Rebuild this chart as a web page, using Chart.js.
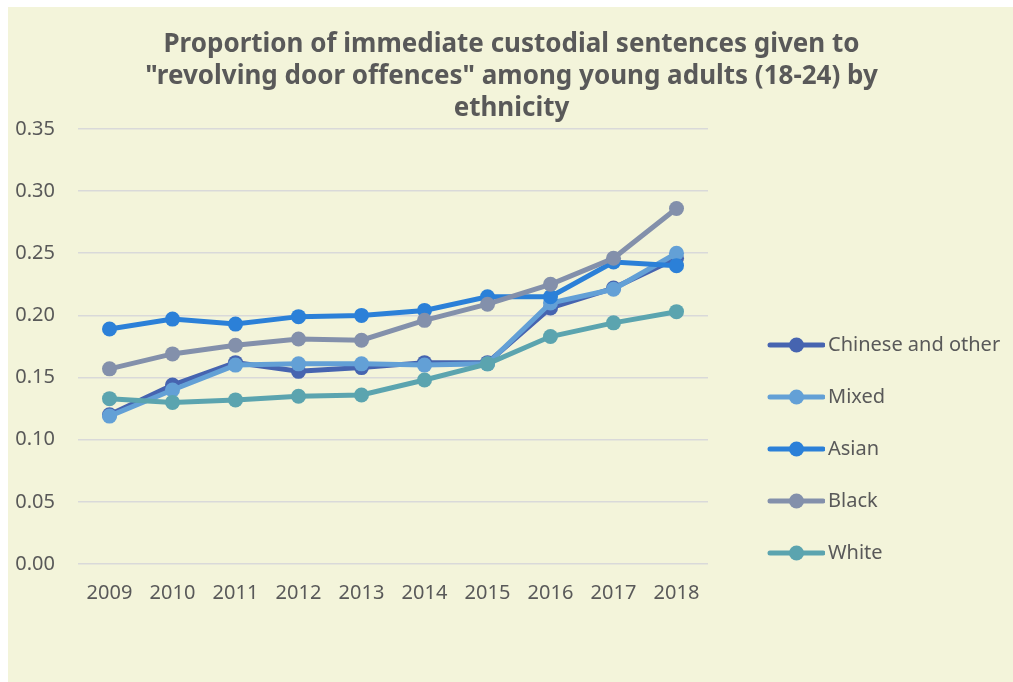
<!DOCTYPE html>
<html lang="en">
<head>
    <meta charset="UTF-8">
    <title>Revolving door offences - custodial sentences by ethnicity</title>
    <script src="https://cdn.jsdelivr.net/npm/chart.js@4.4.1/dist/chart.umd.min.js"></script>
    <style>
        html, body { margin: 0; padding: 0; background: #ffffff; }
        .chart-container {
            position: absolute;
            left: 8px;
            top: 7px;
            width: 1005px;
            height: 675px;
            background: #F3F4DA;
        }
    </style>
</head>
<body>

    <div class="chart-container">
        <canvas id="ethnicityChart"></canvas>
    </div>

    <script>
        // Chart data
        const years = ['2009', '2010', '2011', '2012', '2013', '2014', '2015', '2016', '2017', '2018'];
        const chineseOther = [0.120, 0.144, 0.162, 0.155, 0.158, 0.162, 0.162, 0.206, 0.222, 0.246];
        const mixed        = [0.119, 0.140, 0.160, 0.161, 0.161, 0.160, 0.161, 0.210, 0.221, 0.250];
        const asian        = [0.189, 0.197, 0.193, 0.199, 0.200, 0.204, 0.215, 0.215, 0.243, 0.240];
        const black        = [0.157, 0.169, 0.176, 0.181, 0.180, 0.196, 0.209, 0.225, 0.246, 0.286];
        const white        = [0.133, 0.130, 0.132, 0.135, 0.136, 0.148, 0.161, 0.183, 0.194, 0.203];

        const titleLines = [
            'Proportion of immediate custodial sentences given to',
            '"revolving door offences" among young adults (18-24) by',
            'ethnicity'
        ];

        const textColor = '#595959';

        // Legend marker: a line with a dot in the middle, like the office chart
        function legendMarker(color) {
            const c = document.createElement('canvas');
            c.width = 92;
            c.height = 20;
            const g = c.getContext('2d');
            g.strokeStyle = color;
            g.lineWidth = 5;
            g.lineCap = 'round';
            g.beginPath();
            g.moveTo(37, 10);
            g.lineTo(90, 10);
            g.stroke();
            g.fillStyle = color;
            g.beginPath();
            g.arc(63.5, 10, 7.5, 0, Math.PI * 2);
            g.fill();
            return c;
        }

        function series(label, data, color, order) {
            return {
                label: label,
                data: data,
                borderColor: color,
                backgroundColor: color,
                pointBackgroundColor: color,
                pointBorderColor: color,
                borderWidth: 5,
                pointRadius: 7.5,
                pointHoverRadius: 7.5,
                pointBorderWidth: 0,
                tension: 0,
                fill: false,
                order: order,
                marker: legendMarker(color)
            };
        }

        const ctx = document.getElementById('ethnicityChart').getContext('2d');

        new Chart(ctx, {
            type: 'line',
            data: {
                labels: years,
                datasets: [
                    series('Chinese and other', chineseOther, '#4664B0', 5),
                    series('Mixed', mixed, '#63A0D6', 4),
                    series('Asian', asian, '#2B80D8', 3),
                    series('Black', black, '#8390AB', 2),
                    series('White', white, '#5BA4AF', 1)
                ]
            },
            options: {
                responsive: true,
                maintainAspectRatio: false,
                animation: false,
                layout: {
                    padding: { left: 7, right: 5, top: 0, bottom: 60 }
                },
                scales: {
                    x: {
                        offset: true,
                        grid: { display: false, drawTicks: false },
                        border: { display: false },
                        ticks: {
                            color: textColor,
                            font: { family: 'Noto Sans', size: 20 },
                            padding: 17,
                            maxRotation: 0,
                            autoSkip: false
                        }
                    },
                    y: {
                        min: 0,
                        max: 0.35,
                        grid: { color: '#D9D9D9', lineWidth: 1.5, drawTicks: false },
                        border: { display: false },
                        ticks: {
                            stepSize: 0.05,
                            color: textColor,
                            font: { family: 'Noto Sans', size: 20 },
                            padding: 23,
                            callback: function(value) { return Number(value).toFixed(2); }
                        },
                        afterFit: function(scale) { scale.width = 63; }
                    }
                },
                plugins: {
                    title: {
                        display: true,
                        text: titleLines,
                        color: textColor,
                        font: { family: 'Noto Sans', size: 26, weight: 'bold', lineHeight: 1.23 },
                        padding: { top: 22, bottom: 4 }
                    },
                    legend: {
                        display: true,
                        position: 'right',
                        align: 'start',
                        maxWidth: 300,
                        title: {
                            display: true,
                            text: ' ',
                            font: { size: 10, lineHeight: 1.4 },
                            padding: { top: 282, bottom: 0 }
                        },
                        labels: {
                            color: textColor,
                            font: { family: 'Noto Sans', size: 20 },
                            usePointStyle: true,
                            pointStyleWidth: 78,
                            padding: 32,
                            sort: (a, b) => a.datasetIndex - b.datasetIndex,
                            generateLabels: function(chart) {
                                const items = Chart.defaults.plugins.legend.labels.generateLabels(chart);
                                items.forEach(item => {
                                    item.pointStyle = chart.data.datasets[item.datasetIndex].marker;
                                });
                                return items;
                            }
                        }
                    },
                    tooltip: { enabled: false }
                }
            }
        });
    </script>

</body>
</html>
